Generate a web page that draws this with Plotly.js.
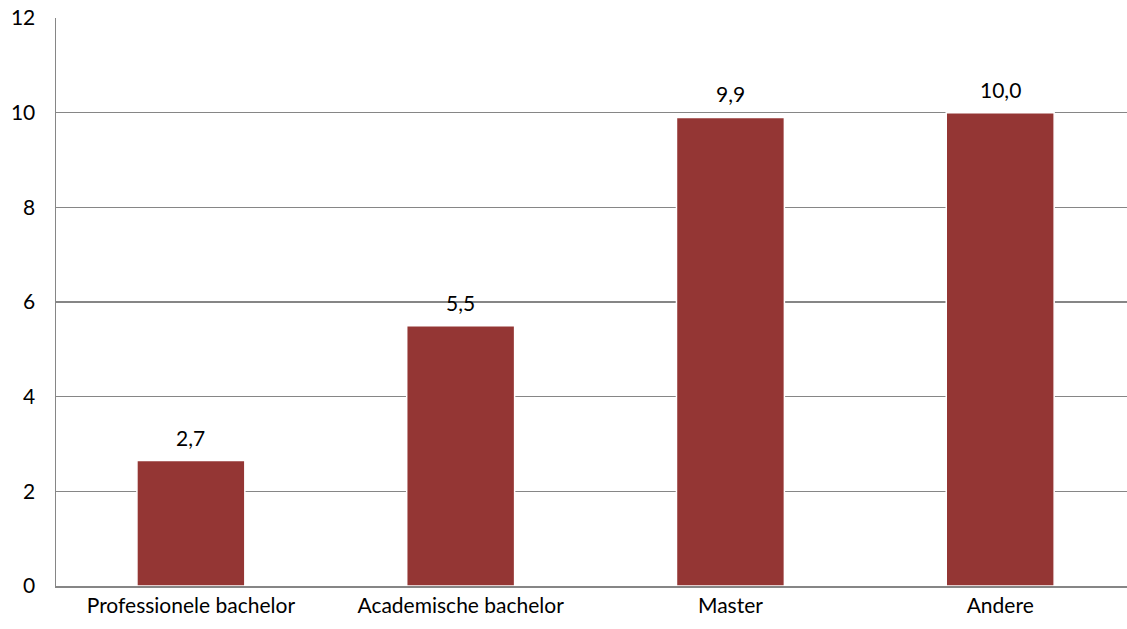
<!DOCTYPE html>
<html>
<head>
<meta charset="utf-8">
<script src="https://cdn.plot.ly/plotly-3.0.1.min.js"></script>
<style>html,body{margin:0;padding:0;background:#fff;}#chart{width:1127px;height:629px;}</style>
</head>
<body>
<div id="chart"></div>
<script>
const categories = ["Professionele bachelor", "Academische bachelor", "Master", "Andere"];
const values = [2.65, 5.5, 9.9, 10.0];
const valueLabels = ["2,7", "5,5", "9,9", "10,0"];
const yTicks = [0, 2, 4, 6, 8, 10, 12];

const FONT = "Lato, Open Sans, sans-serif";
const FS = 21;

const trace = {
  type: "bar",
  x: categories,
  y: values,
  marker: { color: "#943634", line: { color: "#ffffff", width: 1.5 } },
  hoverinfo: "none"
};

const annotations = categories.map((c, i) => ({
  x: c, y: values[i], text: valueLabels[i],
  xref: "x", yref: "y", showarrow: false,
  yanchor: "bottom", yshift: 9,
  font: { family: FONT, size: FS, color: "#000" }
}));

const layout = {
  width: 1127, height: 629,
  margin: { l: 56, r: 0, t: 18, b: 43, pad: 0 },
  paper_bgcolor: "#fff", plot_bgcolor: "#fff",
  bargap: 0.6,
  showlegend: false,
  font: { family: FONT, size: FS, color: "#000" },
  xaxis: {
    type: "category",
    range: [-0.5, 3.47],
    showgrid: false, zeroline: false,
    showline: true, linecolor: "#868686", linewidth: 1.5,
    ticks: "", ticklabelstandoff: 0,
    tickfont: { family: FONT, size: FS, color: "#000" }
  },
  yaxis: {
    range: [0, 12], tickvals: yTicks, ticktext: yTicks.map(String),
    showgrid: true, gridcolor: "#868686", gridwidth: 1.5,
    zeroline: false, showline: true, linecolor: "#868686", linewidth: 1.5,
    ticks: "", ticklabelstandoff: 15,
    tickfont: { family: FONT, size: FS, color: "#000" }
  },
  annotations: annotations
};

Plotly.newPlot("chart", [trace], layout, { displayModeBar: false, staticPlot: true });
</script>
</body>
</html>
